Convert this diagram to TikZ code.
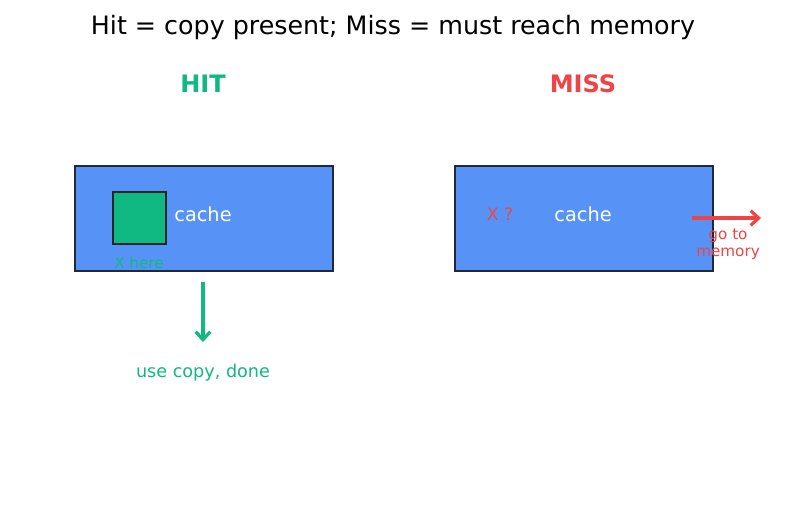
\documentclass[tikz,border=0pt]{standalone}
\usepackage[svgnames]{xcolor}
\usepackage{fontspec}
\setmainfont{DejaVu Sans}
\usepackage{tikz}
\usetikzlibrary{arrows.meta}

\definecolor{hitgreen}{HTML}{10B981}
\definecolor{missred}{HTML}{EF4444}
\definecolor{cacheblue}{HTML}{5793F6}
\definecolor{edgegray}{HTML}{1F2937}

\tikzset{
	cachebox/.style={draw=edgegray, line width=1.6pt, fill=cacheblue},
	lbl/.style={inner sep=0pt, font=\fontsize{#1}{#1}\selectfont},
	flow/.style={-{Straight Barb[length=6pt, width=11pt]}, line width=2.4pt, color=#1},
}

\begin{document}
\begin{tikzpicture}[x=0.75pt, y=-0.75pt]
		\useasboundingbox[fill=white] (0, 0) rectangle (787, 512);

		\node[lbl=19] at (393, 28) (title) {Hit = copy present; Miss = must reach memory};

		\node[color=hitgreen, inner sep=0pt, font=\bfseries\fontsize{18}{18}\selectfont] at (203, 84) (hit) {HIT};
		\node[color=missred, inner sep=0pt, font=\bfseries\fontsize{18}{18}\selectfont] at (583, 84) (miss) {MISS};

		% hit side
		\draw[cachebox] (75, 166) rectangle (333, 271);
		\draw[draw=black!85, line width=1.1pt, fill=hitgreen] (113, 192) rectangle (166, 244);
		\node[lbl=14.5, color=white] at (203, 214) (c1) {cache};
		\node[lbl=11.4, color=hitgreen] at (139, 263) (xh) {X here};
		\coordinate (a1) at (203, 282);
		\coordinate (a2) at (203, 342);
		\draw[flow=hitgreen] (a1) -- (a2);
		\node[lbl=13.2, color=hitgreen] at (203, 373) (done) {use copy, done};

		% miss side
		\draw[cachebox] (455, 166) rectangle (713, 271);
		\node[lbl=12.8, color=missred] at (500, 214) (xq) {X ?};
		\node[lbl=14.5, color=white] at (583, 214) (c2) {cache};
		\coordinate (b1) at (692, 218);
		\coordinate (b2) at (761, 218);
		\draw[flow=missred] (b1) -- (b2);
		\node[color=missred, inner sep=0pt, align=center, font=\fontsize{11.4}{12.5}\selectfont] at (728, 244) (mem) {go to\\memory};
	\end{tikzpicture}
\end{document}
